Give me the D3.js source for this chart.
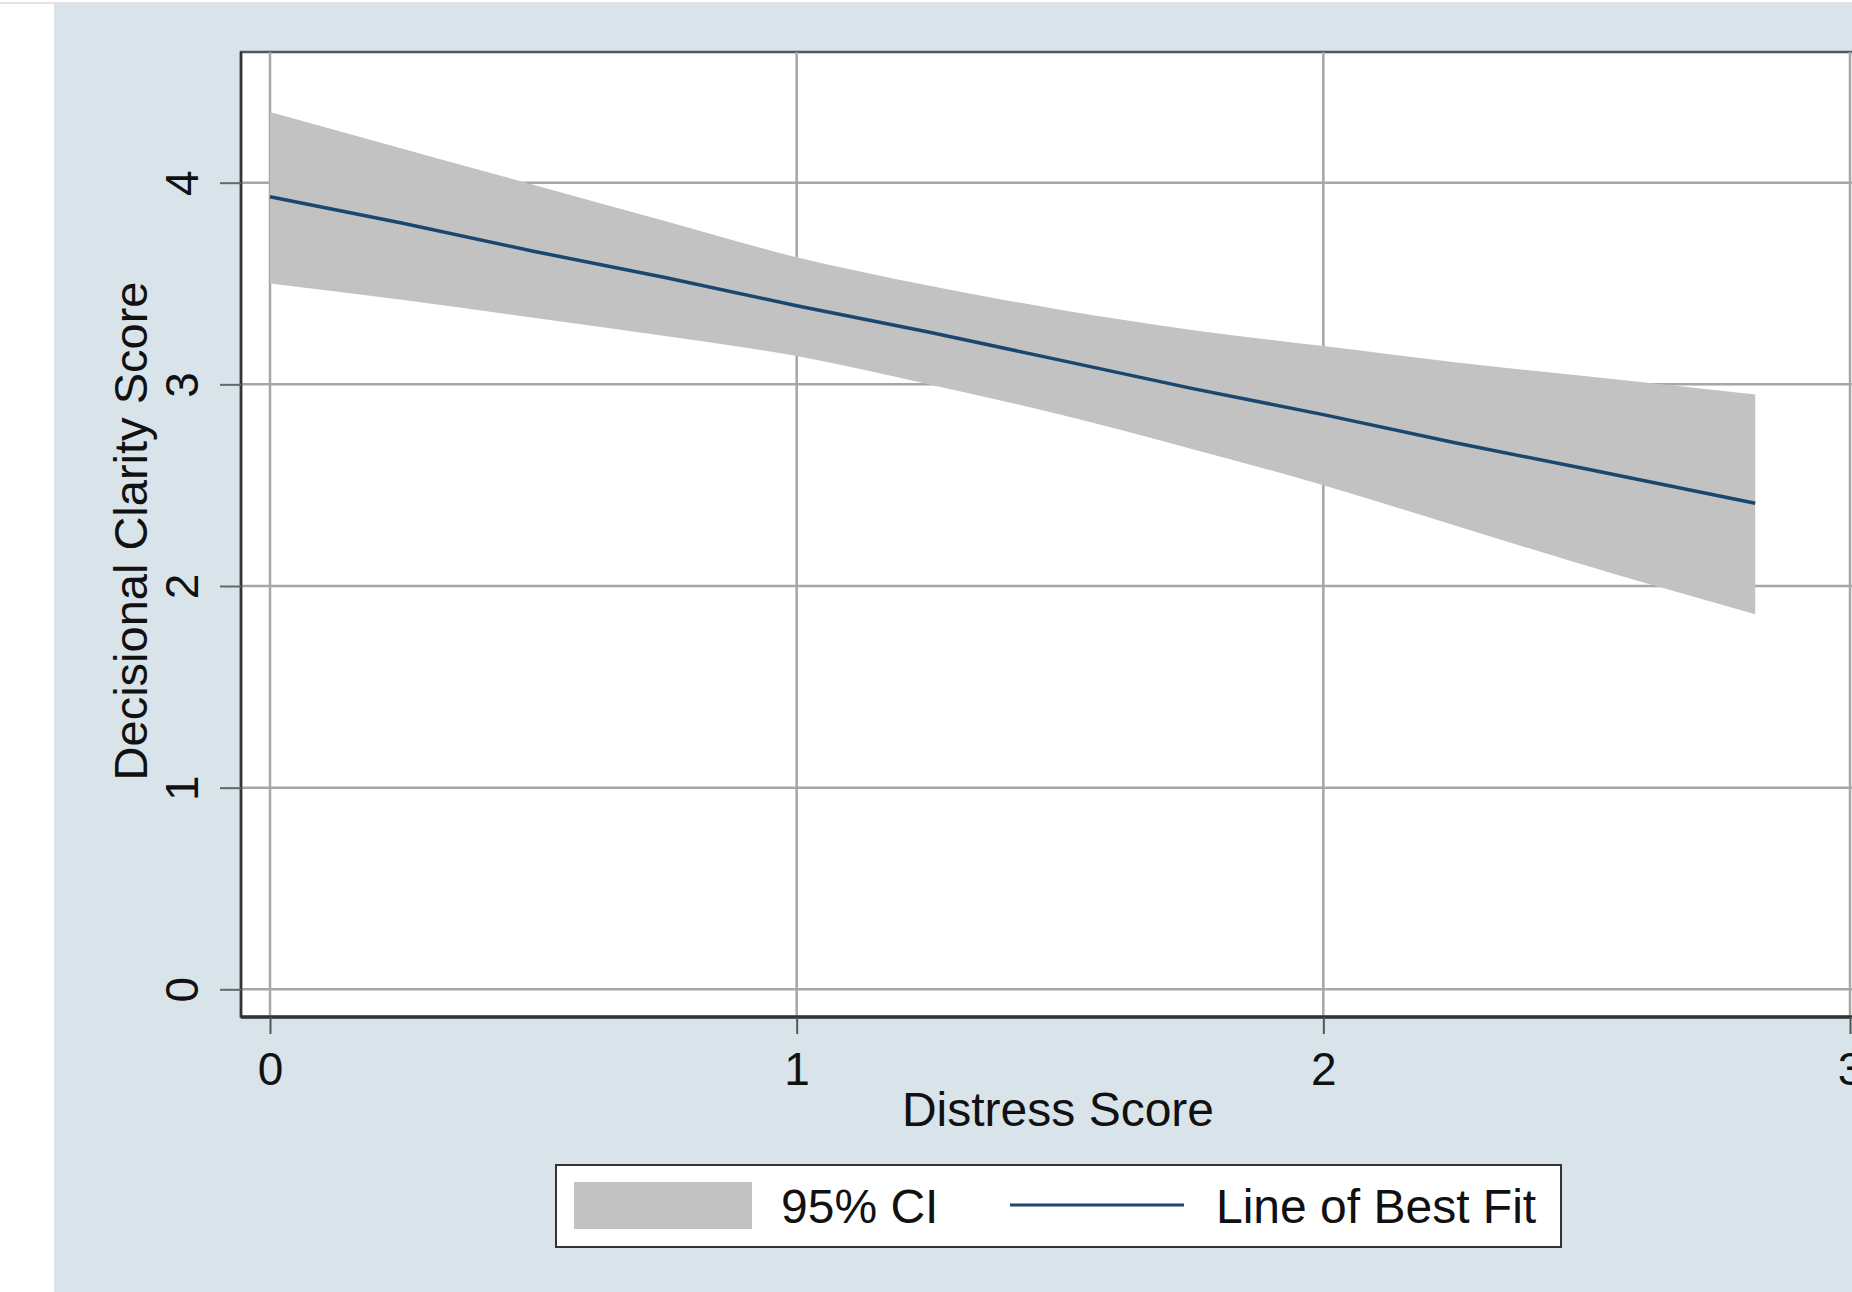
<!DOCTYPE html>
<html>
<head>
<meta charset="utf-8">
<script src="https://cdn.jsdelivr.net/npm/d3@7"></script>
<style>
  html, body { margin: 0; padding: 0; background: #fff; overflow: hidden; }
  svg { display: block; font-family: "Liberation Sans", Arial, sans-serif; }
</style>
</head>
<body>
<div id="canvas"></div>
<script>
'use strict';

const distress = [0, 0.25, 0.5, 0.75, 1, 1.25, 1.5, 1.75, 2, 2.25, 2.5, 2.82];
// Line of best fit (decisional clarity score).
const fitValues = [3.93, 3.80, 3.66, 3.53, 3.39, 3.26, 3.12, 2.98, 2.85, 2.71, 2.58, 2.41];
// 95% confidence band.
const ciUpper = [4.35, 4.17, 3.99, 3.81, 3.63, 3.49, 3.37, 3.27, 3.19, 3.11, 3.04, 2.95];
const ciLower = [3.50, 3.42, 3.33, 3.24, 3.14, 3.00, 2.85, 2.68, 2.50, 2.30, 2.10, 1.86];

const xTicks = [0, 1, 2, 3];
const yTicks = [0, 1, 2, 3, 4];
const xTitle = 'Distress Score';
const yTitle = 'Decisional Clarity Score';
const legendLabels = ['95% CI', 'Line of Best Fit'];

const width = 1852;
const height = 1292;
const tickFont = 46;
const titleFont = 48;
const colors = {
  background: '#d9e4ea',
  band: '#c2c2c2',
  fit: '#1a476f',
  grid: '#a6a6a6',
  axis: '#333333',
  text: '#111111',
};
// Plot region in page pixels.
const plot = {left: 241, top: 52, right: 1900, bottom: 1017};

const svg = d3.select('#canvas').append('svg')
    .attr('width', width)
    .attr('height', height);

// Page: white margin, thin rule at the top, bluish graph region.
svg.append('rect')
    .attr('width', width)
    .attr('height', height)
    .attr('fill', '#ffffff');
svg.append('line')
    .attr('x1', 0).attr('x2', width)
    .attr('y1', 3).attr('y2', 3)
    .attr('stroke', '#c8c8c8')
    .attr('stroke-width', 1);
svg.append('rect')
    .attr('x', 54)
    .attr('y', 4)
    .attr('width', width - 54)
    .attr('height', height - 4)
    .attr('fill', colors.background);

const x = d3.scaleLinear()
    .domain([0, 3])
    .range([270, 1850]);
const y = d3.scaleLinear()
    .domain([0, 4])
    .range([989.3, 182.7]);

// Plot region.
svg.append('rect')
    .attr('x', plot.left)
    .attr('y', plot.top)
    .attr('width', plot.right - plot.left)
    .attr('height', plot.bottom - plot.top)
    .attr('fill', '#ffffff')
    .attr('stroke', '#555555')
    .attr('stroke-width', 2.5);

// Gridlines.
const grid = svg.append('g').attr('class', 'grid');
grid.selectAll('.hgrid')
    .data(yTicks)
    .enter()
    .append('line')
    .attr('x1', plot.left)
    .attr('x2', plot.right)
    .attr('y1', d => y(d))
    .attr('y2', d => y(d))
    .attr('stroke', colors.grid)
    .attr('stroke-width', 2.5);
grid.selectAll('.vgrid')
    .data(xTicks)
    .enter()
    .append('line')
    .attr('x1', d => x(d))
    .attr('x2', d => x(d))
    .attr('y1', plot.top)
    .attr('y2', plot.bottom)
    .attr('stroke', colors.grid)
    .attr('stroke-width', 2.5);

// Confidence band then the fitted line on top.
const points = distress.map((d, i) => ({
  x: d, fit: fitValues[i], hi: ciUpper[i], lo: ciLower[i],
}));
const area = d3.area()
    .x(d => x(d.x))
    .y0(d => y(d.lo))
    .y1(d => y(d.hi))
    .curve(d3.curveMonotoneX);
svg.append('path')
    .datum(points)
    .attr('d', area)
    .attr('fill', colors.band);
const line = d3.line()
    .x(d => x(d.x))
    .y(d => y(d.fit));
svg.append('path')
    .datum(points)
    .attr('d', line)
    .attr('fill', 'none')
    .attr('stroke', colors.fit)
    .attr('stroke-width', 3.5);

// Axis lines.
svg.append('line')
    .attr('x1', plot.left).attr('x2', plot.left)
    .attr('y1', plot.top).attr('y2', plot.bottom)
    .attr('stroke', colors.axis)
    .attr('stroke-width', 2.5);
svg.append('line')
    .attr('x1', plot.left).attr('x2', plot.right)
    .attr('y1', plot.bottom).attr('y2', plot.bottom)
    .attr('stroke', colors.axis)
    .attr('stroke-width', 3.5);

// Y axis: ticks and rotated labels.
const yAxis = svg.append('g')
    .attr('transform', `translate(${plot.left}, 0)`)
    .call(d3.axisLeft(y).tickValues(yTicks).tickSize(21).tickSizeOuter(0)
        .tickFormat(d3.format('d')));
yAxis.select('.domain').remove();
yAxis.selectAll('.tick line')
    .attr('stroke', '#666666')
    .attr('stroke-width', 2);
yAxis.selectAll('.tick text')
    .attr('x', null)
    .attr('dy', null)
    .attr('text-anchor', 'middle')
    .attr('transform', 'translate(-43, 0) rotate(-90)')
    .attr('fill', colors.text)
    .style('font-size', `${tickFont}px`)
    .style('font-family', '"Liberation Sans", Arial, sans-serif');

// X axis.
const xAxis = svg.append('g')
    .attr('transform', `translate(0, ${plot.bottom})`)
    .call(d3.axisBottom(x).tickValues(xTicks).tickSize(17).tickSizeOuter(0)
        .tickFormat(d3.format('d')));
xAxis.select('.domain').remove();
xAxis.selectAll('.tick line')
    .attr('stroke', '#555555')
    .attr('stroke-width', 2);
xAxis.selectAll('.tick text')
    .attr('y', 68)
    .attr('dy', null)
    .attr('fill', colors.text)
    .style('font-size', `${tickFont}px`)
    .style('font-family', '"Liberation Sans", Arial, sans-serif');

// Axis titles.
svg.append('text')
    .attr('x', 1058)
    .attr('y', 1126)
    .attr('text-anchor', 'middle')
    .attr('fill', colors.text)
    .style('font-size', `${titleFont}px`)
    .text(xTitle);
svg.append('text')
    .attr('transform', 'translate(147, 531) rotate(-90)')
    .attr('text-anchor', 'middle')
    .attr('fill', colors.text)
    .style('font-size', `${titleFont - 1}px`)
    .text(yTitle);

// Legend.
const legend = svg.append('g').attr('class', 'legend');
legend.append('rect')
    .attr('x', 556)
    .attr('y', 1165)
    .attr('width', 1005)
    .attr('height', 82)
    .attr('fill', '#ffffff')
    .attr('stroke', '#333333')
    .attr('stroke-width', 2);
legend.append('rect')
    .attr('x', 574)
    .attr('y', 1182)
    .attr('width', 178)
    .attr('height', 47)
    .attr('fill', colors.band);
legend.append('text')
    .attr('x', 781)
    .attr('y', 1223)
    .attr('fill', colors.text)
    .style('font-size', `${titleFont}px`)
    .text(legendLabels[0]);
legend.append('line')
    .attr('x1', 1010).attr('x2', 1184)
    .attr('y1', 1205).attr('y2', 1205)
    .attr('stroke', colors.fit)
    .attr('stroke-width', 3);
legend.append('text')
    .attr('x', 1216)
    .attr('y', 1223)
    .attr('fill', colors.text)
    .style('font-size', `${titleFont}px`)
    .text(legendLabels[1]);
</script>
</body>
</html>
